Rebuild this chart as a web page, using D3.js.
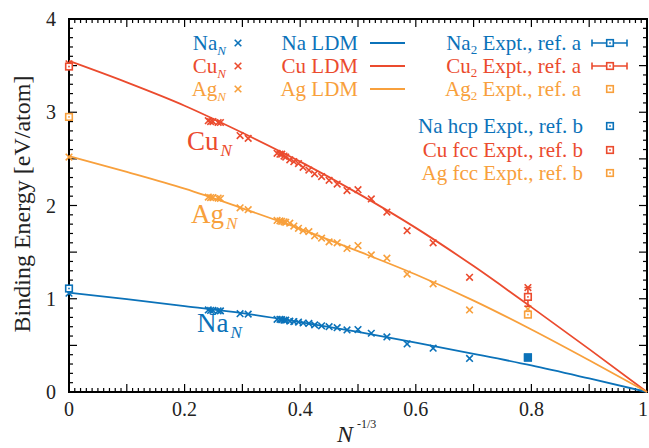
<!DOCTYPE html>
<html>
<head>
<meta charset="utf-8">
<script src="https://cdn.jsdelivr.net/npm/d3@7"></script>
<style>
  html, body { margin: 0; padding: 0; background: #fff; }
  svg { display: block; }
  svg text { font-family: "Liberation Serif", "Times New Roman", Times, "DejaVu Serif", serif; }
</style>
</head>
<body>
<svg id="chart" width="649" height="448"></svg>
<script>
// cluster sizes as N^(-1/3), shared by the three metals
const SIZE_X = [0, 0.241, 0.245, 0.249, 0.258, 0.262, 0.296, 0.310, 0.360, 0.365, 0.368, 0.372,
  0.375, 0.382, 0.389, 0.397, 0.405, 0.415, 0.425, 0.437, 0.450, 0.464, 0.481, 0.500, 0.523,
  0.550, 0.585, 0.630, 0.693, 0.794];
const NA_E = [1.06, 0.88, 0.875, 0.875, 0.87, 0.87, 0.84, 0.835, 0.78, 0.78, 0.775, 0.77,
  0.77, 0.76, 0.755, 0.75, 0.74, 0.735, 0.72, 0.71, 0.70, 0.69, 0.665, 0.67, 0.63,
  0.59, 0.515, 0.47, 0.36, 0.37];
const CU_E = [3.52, 2.91, 2.90, 2.90, 2.89, 2.89, 2.75, 2.72, 2.56, 2.55, 2.55, 2.53,
  2.52, 2.49, 2.47, 2.45, 2.41, 2.38, 2.34, 2.31, 2.27, 2.23, 2.16, 2.17, 2.07,
  1.93, 1.73, 1.60, 1.23, 1.12];
const AG_E = [2.52, 2.09, 2.085, 2.085, 2.08, 2.075, 1.975, 1.955, 1.84, 1.835, 1.83, 1.825,
  1.82, 1.81, 1.78, 1.755, 1.73, 1.72, 1.675, 1.65, 1.61, 1.60, 1.54, 1.57, 1.47,
  1.435, 1.265, 1.16, 0.88, 0.89];

// liquid drop model curves
const LDM_X = [0, 0.1, 0.2, 0.3, 0.4, 0.5, 0.6, 0.7, 0.8, 0.9, 1.0];
const NA_LDM = [1.065, 0.995, 0.92, 0.845, 0.75, 0.645, 0.53, 0.41, 0.285, 0.145, 0];
const CU_LDM = [3.55, 3.32, 3.07, 2.78, 2.47, 2.13, 1.76, 1.35, 0.91, 0.46, 0];
const AG_LDM = [2.53, 2.36, 2.18, 1.97, 1.75, 1.51, 1.26, 0.98, 0.67, 0.34, 0];

// experiments: dimers (N=2) and bulk (N -> inf)
const METALS = ['Na', 'Cu', 'Ag'];
const DIMER_X = 0.794;
const DIMER_E = [0.37, 1.02, 0.83];
const DIMER_ERR = [0.03, 0.10, null];
const BULK_E = [1.11, 3.49, 2.95];
const BULK_LABELS = ['Na hcp Expt., ref. b', 'Cu fcc Expt., ref. b', 'Ag fcc Expt., ref. b'];

const X_TICKS = [0, 0.2, 0.4, 0.6, 0.8, 1];
const Y_TICKS = [0, 1, 2, 3, 4];

const COLORS = { Na: '#0b72b9', Cu: '#eb4b2e', Ag: '#f8a03c' };
const SERIF = '"Liberation Serif", "Times New Roman", Times, "DejaVu Serif", serif';

const svg = d3.select('#chart').attr('font-family', SERIF);
const L = 69, R = 647, T = 19, B = 392;
const x = d3.scaleLinear().domain([0, 1]).range([L, R]);
const y = d3.scaleLinear().domain([0, 4]).range([B, T]);

// ticks (inward, all four sides)
const tickG = svg.append('g').attr('stroke', '#000').attr('stroke-width', 1.2);
d3.range(0, 101).forEach((i) => {
  const v = i / 100;
  const len = i % 10 === 0 ? 8 : 4;
  tickG.append('line').attr('x1', x(v)).attr('x2', x(v)).attr('y1', B).attr('y2', B - len);
  tickG.append('line').attr('x1', x(v)).attr('x2', x(v)).attr('y1', T).attr('y2', T + len);
});
d3.range(0, 41).forEach((i) => {
  const v = i / 10;
  const len = i % 5 === 0 ? 8 : 4;
  tickG.append('line').attr('x1', L).attr('x2', L + len).attr('y1', y(v)).attr('y2', y(v));
  tickG.append('line').attr('x1', R).attr('x2', R - len).attr('y1', y(v)).attr('y2', y(v));
});

svg.append('rect')
  .attr('x', L).attr('y', T).attr('width', R - L).attr('height', B - T)
  .attr('fill', 'none').attr('stroke', '#000').attr('stroke-width', 2);

// tick labels
svg.append('g').selectAll('text').data(X_TICKS).join('text')
  .attr('x', (d) => x(d) - (d === 1 ? 4 : 0)).attr('y', 416)
  .attr('text-anchor', 'middle').attr('font-size', 20).attr('fill', '#222')
  .text((d) => d);
svg.append('g').selectAll('text').data(Y_TICKS).join('text')
  .attr('x', 56).attr('y', (d) => y(d) + 7)
  .attr('text-anchor', 'end').attr('font-size', 20).attr('fill', '#222')
  .text((d) => d);

// axis titles
svg.append('text')
  .attr('transform', 'translate(30,204) rotate(-90)')
  .attr('text-anchor', 'middle').attr('font-size', 24).attr('fill', '#222')
  .text('Binding Energy [eV/atom]');
const xt = svg.append('text').attr('x', 337).attr('y', 442).attr('fill', '#222');
xt.append('tspan').attr('font-style', 'italic').attr('font-size', 24).text('N');
xt.append('tspan').attr('font-size', 12).attr('dx', 4).attr('dy', -14).text('-1/3');

// LDM curves
const ldmLine = d3.line().x((d) => x(d[0])).y((d) => y(d[1])).curve(d3.curveMonotoneX);
const ldm = { Na: NA_LDM, Cu: CU_LDM, Ag: AG_LDM };
METALS.forEach((m) => {
  svg.append('path')
    .attr('d', ldmLine(LDM_X.map((v, i) => [v, ldm[m][i]])))
    .attr('fill', 'none').attr('stroke', COLORS[m]).attr('stroke-width', 1.8);
});

function cross(g, cx, cy, color) {
  const s = 3.3;
  g.append('path')
    .attr('d', `M${cx - s},${cy - s}L${cx + s},${cy + s}M${cx - s},${cy + s}L${cx + s},${cy - s}`)
    .attr('stroke', color).attr('stroke-width', 1.6).attr('fill', 'none');
}
function square(g, cx, cy, color) {
  g.append('rect')
    .attr('x', cx - 3.3).attr('y', cy - 3.3).attr('width', 6.6).attr('height', 6.6)
    .attr('fill', '#fff').attr('stroke', color).attr('stroke-width', 1.6);
  g.append('rect')
    .attr('x', cx - 0.8).attr('y', cy - 0.8).attr('width', 1.6).attr('height', 1.6)
    .attr('fill', color);
}
function errBar(g, cx, y1, y2, color) {
  const c = 3.5;
  g.append('path')
    .attr('d', `M${cx},${y1}L${cx},${y2}M${cx - c},${y1}L${cx + c},${y1}M${cx - c},${y2}L${cx + c},${y2}`)
    .attr('stroke', color).attr('stroke-width', 1.6).attr('fill', 'none');
}

// cluster data
const energies = { Na: NA_E, Cu: CU_E, Ag: AG_E };
const markG = svg.append('g');
METALS.forEach((m) => {
  SIZE_X.forEach((v, i) => cross(markG, x(v), y(energies[m][i]), COLORS[m]));
});

// experiments
METALS.forEach((m, i) => {
  if (DIMER_ERR[i] != null) {
    errBar(markG, x(DIMER_X), y(DIMER_E[i] - DIMER_ERR[i]), y(DIMER_E[i] + DIMER_ERR[i]), COLORS[m]);
  }
  square(markG, x(DIMER_X), y(DIMER_E[i]), COLORS[m]);
  square(markG, x(0), y(BULK_E[i]), COLORS[m]);
});
// Na dimer marker looks solid in the reference (error caps fill the box)
markG.append('rect')
  .attr('x', x(DIMER_X) - 3.3).attr('y', y(DIMER_E[0]) - 3.3).attr('width', 6.6).attr('height', 6.6)
  .attr('fill', COLORS.Na).attr('stroke', COLORS.Na).attr('stroke-width', 1.6);

// in-plot labels
const inLabels = [
  { m: 'Cu', x: 187, y: 150 },
  { m: 'Ag', x: 191, y: 223 },
  { m: 'Na', x: 197, y: 332 },
];
inLabels.forEach((d) => {
  const t = svg.append('text').attr('x', d.x).attr('y', d.y)
    .attr('font-size', 27).attr('fill', COLORS[d.m]);
  t.append('tspan').text(d.m);
  t.append('tspan').attr('font-style', 'italic').attr('font-size', 17).attr('dx', 2).attr('dy', 6).text('N');
});

// legend
const leg = svg.append('g').attr('font-size', 21);
const rowY = [43, 66, 89];
METALS.forEach((m, i) => {
  const cy = rowY[i];
  const c = COLORS[m];
  const t1 = leg.append('text').attr('x', 226).attr('y', cy + 7)
    .attr('text-anchor', 'end').attr('fill', c);
  t1.append('tspan').text(m);
  t1.append('tspan').attr('font-style', 'italic').attr('font-size', 13).attr('dy', 5).text('N');
  cross(leg, 238, cy, c);

  leg.append('text').attr('x', 358).attr('y', cy + 7)
    .attr('text-anchor', 'end').attr('fill', c).text(`${m} LDM`);
  leg.append('line').attr('x1', 370).attr('x2', 405).attr('y1', cy).attr('y2', cy)
    .attr('stroke', c).attr('stroke-width', 1.8);

  const t3 = leg.append('text').attr('x', 581).attr('y', cy + 7)
    .attr('text-anchor', 'end').attr('fill', c);
  t3.append('tspan').text(m);
  t3.append('tspan').attr('font-size', 13).attr('dy', 4).text('2');
  t3.append('tspan').attr('dy', -4).text(' Expt., ref. a');
  if (DIMER_ERR[i] != null) {
    leg.append('path')
      .attr('d', `M592,${cy}L627,${cy}M592,${cy - 3.5}L592,${cy + 3.5}M627,${cy - 3.5}L627,${cy + 3.5}`)
      .attr('stroke', c).attr('stroke-width', 1.6).attr('fill', 'none');
  }
  square(leg, 610, cy, c);

  const by = [126, 150, 173][i];
  leg.append('text').attr('x', 583).attr('y', by + 7)
    .attr('text-anchor', 'end').attr('fill', c).text(BULK_LABELS[i]);
  square(leg, 610, by, c);
});
</script>
</body>
</html>
